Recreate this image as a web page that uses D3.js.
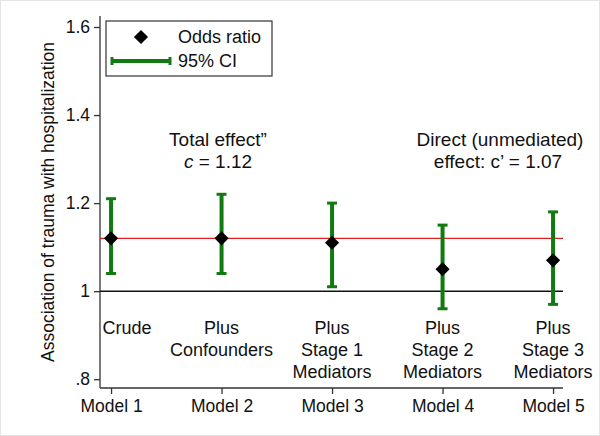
<!doctype html>
<html>
  <head>
    <script src="https://cdnjs.cloudflare.com/ajax/libs/d3/7.8.5/d3.min.js"></script>
    <style>
      body { margin: 0; background: #fff; }
      svg { font-family: "Liberation Sans", Arial, sans-serif; fill: #000; }
      .axis path, .axis line { stroke: #333; stroke-width: 1.3px; }
      .axis text { font-size: 17.5px; fill: #111; }
      .ci { stroke: #117a11; stroke-width: 4px; }
      .lab { font-size: 18px; text-anchor: middle; fill: #111; }
      .note { font-size: 19px; text-anchor: middle; fill: #111; }
    </style>
  </head>
  <body>
    <svg width="600" height="436"></svg>
    <script>
      // models along the x axis
      var models = ["Model 1", "Model 2", "Model 3", "Model 4", "Model 5"];
      var oddsRatio = [1.12, 1.12, 1.11, 1.05, 1.07];
      var ciLow = [1.04, 1.04, 1.01, 0.96, 0.97];
      var ciHigh = [1.21, 1.22, 1.20, 1.15, 1.18];
      var modelLabels = [["Crude"], ["Plus", "Confounders"], ["Plus", "Stage 1", "Mediators"],
                         ["Plus", "Stage 2", "Mediators"], ["Plus", "Stage 3", "Mediators"]];
      var yTicks = [0.8, 1, 1.2, 1.4, 1.6];
      var totalEffect = 1.12, directEffect = 1.07, nullValue = 1;

      var svg = d3.select("svg");
      svg.append("rect").attr("x", 0.5).attr("y", 0.5).attr("width", 599).attr("height", 435)
        .attr("fill", "#fff").attr("stroke", "#e4e4e4");

      var x = d3.scaleLinear().domain([0.9, 5.09]).range([100, 563]);
      var y = d3.scaleLinear().domain([0.78, 1.625]).range([388, 16]);

      var data = models.map((m, i) => ({ m: m, i: i + 1, or: oddsRatio[i], lo: ciLow[i], hi: ciHigh[i], lab: modelLabels[i] }));

      // axes
      svg.append("g").attr("class", "axis").attr("transform", "translate(100,0)")
        .call(d3.axisLeft(y).tickValues(yTicks).tickSize(6).tickPadding(4)
          .tickFormat(d => d === 1 ? "1" : d3.format(".1f")(d).replace(/^0/, "")))
        .select(".domain").attr("d", "M0,16V388");
      svg.append("g").attr("class", "axis").attr("transform", "translate(0,388)")
        .call(d3.axisBottom(x).tickValues(d3.range(1, 6)).tickSize(6).tickPadding(6)
          .tickFormat(d => models[d - 1]))
        .select(".domain").attr("d", "M100,0H563");

      // reference lines
      svg.append("line").attr("x1", 100).attr("x2", 563).attr("y1", y(nullValue)).attr("y2", y(nullValue))
        .attr("stroke", "#111").attr("stroke-width", 1.5);
      svg.append("line").attr("x1", 100).attr("x2", 563).attr("y1", y(totalEffect)).attr("y2", y(totalEffect))
        .attr("stroke", "#e02020").attr("stroke-width", 1.2);

      // confidence intervals
      var g = svg.append("g");
      g.selectAll(".ci-v").data(data).enter().append("line").attr("class", "ci")
        .attr("x1", d => x(d.i)).attr("x2", d => x(d.i)).attr("y1", d => y(d.lo)).attr("y2", d => y(d.hi));
      ["lo", "hi"].forEach(k => {
        g.selectAll(".cap-" + k).data(data).enter().append("line").attr("class", "ci")
          .style("stroke-width", 3)
          .attr("x1", d => x(d.i) - 5).attr("x2", d => x(d.i) + 5).attr("y1", d => y(d[k])).attr("y2", d => y(d[k]));
      });

      var diamond = d3.symbol().type(d3.symbolSquare).size(100);
      g.selectAll(".pt").data(data).enter().append("path")
        .attr("d", diamond).attr("fill", "#000")
        .attr("transform", d => "translate(" + x(d.i) + "," + y(d.or) + ") rotate(45)");

      // labels inside the plot
      data.forEach(d => {
        var lx = d.i === 1 ? x(d.i) + 16 : x(d.i);
        var t = svg.append("text").attr("class", "lab").attr("x", lx).attr("y", 334);
        d.lab.forEach((s, j) => t.append("tspan").attr("x", lx).attr("dy", j ? 22 : 0).text(s));
      });

      // annotations
      svg.append("text").attr("class", "note").attr("x", 218).attr("y", 146).text("Total effect\u201d");
      var c1 = svg.append("text").attr("class", "note").attr("x", 218).attr("y", 168);
      c1.append("tspan").style("font-style", "italic").text("c");
      c1.append("tspan").text(" = " + totalEffect.toFixed(2));
      svg.append("text").attr("class", "note").attr("x", 500).attr("y", 146).text("Direct (unmediated)");
      svg.append("text").attr("class", "note").attr("x", 498).attr("y", 168).text("effect: c\u2019 = " + directEffect.toFixed(2));

      // y axis title
      svg.append("text").attr("transform", "translate(54,202) rotate(-90)")
        .attr("text-anchor", "middle").style("font-size", "17.5px").attr("fill", "#111")
        .text("Association of trauma with hospitalization");

      // legend
      var lg = svg.append("g");
      lg.append("rect").attr("x", 106).attr("y", 21).attr("width", 166).attr("height", 55)
        .attr("fill", "#fff").attr("stroke", "#333").attr("stroke-width", 1.2);
      lg.append("path").attr("d", diamond).attr("fill", "#000").attr("transform", "translate(141,37) rotate(45)");
      lg.append("text").attr("x", 178).attr("y", 43).style("font-size", "18px").attr("fill", "#111").text("Odds ratio");
      lg.append("line").attr("class", "ci").attr("x1", 112).attr("x2", 170).attr("y1", 61).attr("y2", 61);
      [112, 170].forEach(px => lg.append("line").attr("class", "ci").style("stroke-width", 3)
        .attr("x1", px).attr("x2", px).attr("y1", 57).attr("y2", 65));
      lg.append("text").attr("x", 178).attr("y", 67).style("font-size", "18px").attr("fill", "#111").text("95% CI");
    </script>
  </body>
</html>
